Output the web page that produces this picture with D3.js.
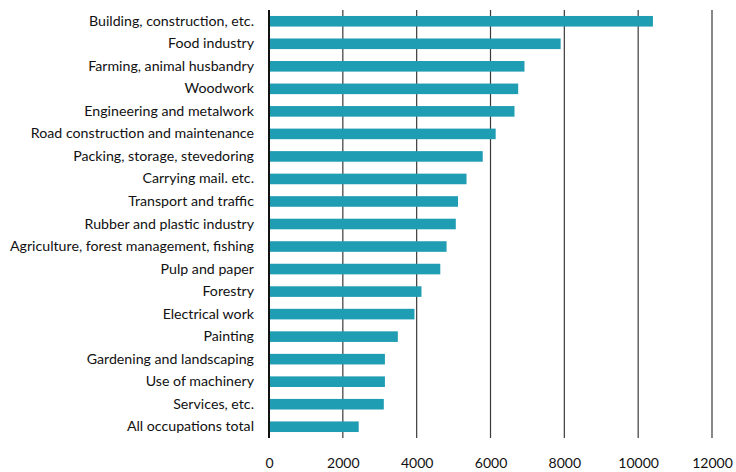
<!DOCTYPE html>
<html>
<head>
<meta charset="utf-8">
<script src="https://cdn.jsdelivr.net/npm/d3@7"></script>
<style>
  html, body { margin: 0; padding: 0; background: #fff; }
  svg { display: block; font-family: Lato, "Open Sans", sans-serif; }
</style>
</head>
<body>
<svg id="chart" width="736" height="472"></svg>
<script>
// ------------------------
// Data
// ------------------------
const categories = [
	'Building, construction, etc.',
	'Food industry',
	'Farming, animal husbandry',
	'Woodwork',
	'Engineering and metalwork',
	'Road construction and maintenance',
	'Packing, storage, stevedoring',
	'Carrying mail. etc.',
	'Transport and traffic',
	'Rubber and plastic industry',
	'Agriculture, forest management, fishing',
	'Pulp and paper',
	'Forestry',
	'Electrical work',
	'Painting',
	'Gardening and landscaping',
	'Use of machinery',
	'Services, etc.',
	'All occupations total',
];
const values = [
	10400, 7900, 6920, 6750, 6650, 6140, 5790, 5350, 5120, 5060,
	4810, 4640, 4130, 3940, 3490, 3140, 3140, 3110, 2430,
];
const xTicks = [ 0, 2000, 4000, 6000, 8000, 10000, 12000 ];

const margin = { top: 10, right: 24, bottom: 34, left: 269 };
const width = 736, height = 472;

const svg = d3.select( '#chart' );

const x = d3.scaleLinear()
	.domain( [ 0, 12000 ] )
	.range( [ margin.left, width - margin.right ] );

const y = d3.scaleBand()
	.domain( categories )
	.range( [ margin.top, height - margin.bottom ] )
	.paddingInner( 0.53 )
	.paddingOuter( 0.265 );

// gridlines
svg.append( 'g' )
	.selectAll( 'line' )
	.data( xTicks.slice( 1 ) )
	.join( 'line' )
	.attr( 'x1', d => x( d ) )
	.attr( 'x2', d => x( d ) )
	.attr( 'y1', margin.top )
	.attr( 'y2', height - margin.bottom )
	.attr( 'stroke', '#3a3a3a' )
	.attr( 'stroke-width', 1.2 );

// bars
svg.append( 'g' )
	.selectAll( 'rect' )
	.data( values )
	.join( 'rect' )
	.attr( 'x', x( 0 ) )
	.attr( 'y', ( d, i ) => y( categories[ i ] ) )
	.attr( 'width', d => x( d ) - x( 0 ) )
	.attr( 'height', y.bandwidth() )
	.attr( 'fill', '#1f9db3' );

// y axis (labels + zero line)
const yAxis = svg.append( 'g' )
	.attr( 'transform', `translate(${ x( 0 ) },0)` )
	.call( d3.axisLeft( y ).tickSize( 0 ).tickPadding( 15 ) );
yAxis.select( '.domain' ).remove();
yAxis.selectAll( 'text' )
	.style( 'font-size', '14.2px' )
	.style( 'font-family', 'Lato, "Open Sans", sans-serif' )
	.attr( 'fill', '#111' );

svg.append( 'line' )
	.attr( 'x1', x( 0 ) )
	.attr( 'x2', x( 0 ) )
	.attr( 'y1', margin.top )
	.attr( 'y2', height - margin.bottom )
	.attr( 'stroke', '#111' )
	.attr( 'stroke-width', 2 );

// x axis labels
const xAxis = svg.append( 'g' )
	.attr( 'transform', `translate(0,${ height - margin.bottom })` )
	.call( d3.axisBottom( x ).tickValues( xTicks ).tickSize( 0 ).tickPadding( 20 ).tickFormat( d3.format( 'd' ) ) );
xAxis.select( '.domain' ).remove();
xAxis.selectAll( 'text' )
	.style( 'font-size', '14px' )
	.style( 'font-family', 'Lato, "Open Sans", sans-serif' )
	.attr( 'fill', '#111' );
</script>
</body>
</html>
